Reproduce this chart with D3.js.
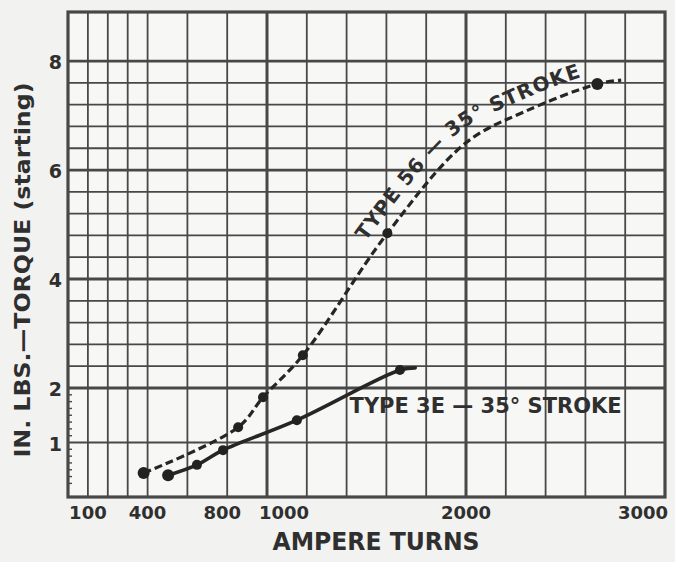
<!DOCTYPE html>
<html><head><meta charset="utf-8">
<script src="https://cdn.jsdelivr.net/npm/d3@7"></script>
<style>
html,body{margin:0;padding:0;background:#f2f2f0;}
svg{display:block;}
text{font-family:"DejaVu Sans",sans-serif;font-weight:bold;fill:#2f2f2f;}
</style></head><body>
<svg id="chart" width="675" height="562"></svg>
<script>
// ---- data ----
const xTickValues = [100, 400, 800, 1000, 2000, 3000];
const xTickLabels = ["100", "400", "800", "1000", "2000", "3000"];
const yTickValues = [1, 2, 4, 6, 8];
const yTickLabels = ["1", "2", "4", "6", "8"];
const xGridValues = [100, 200, 300, 400, 600, 800, 1000, 1200, 1400, 1600, 1800, 2000, 2200, 2400, 2600, 2800];
const xHeavyValues = [1000, 2000];
const yGridValues = [1, 2, 2.4, 2.8, 3.2, 3.6, 4, 4.4, 4.8, 5.2, 5.6, 6, 6.4, 6.8, 7.2, 7.6, 8];
const yHeavyValues = [2, 4, 6, 8];
const yMinorTicks = [0.25, 0.375, 0.5, 0.625, 0.75, 0.875, 1.125, 1.25, 1.375, 1.5, 1.625, 1.75, 1.875];

// Type 56 – 35° stroke (dashed)
const type56Amps   = [380, 855, 980, 1180, 1605, 2660];
const type56Torque = [0.44, 1.28, 1.83, 2.6, 4.84, 7.58];
const type56CurveAmps   = [380, 855, 980, 1180, 1605, 2000, 2300, 2660, 2780];
const type56CurveTorque = [0.44, 1.28, 1.83, 2.6, 4.84, 6.5, 7.08, 7.58, 7.65];

// Type 3E – 35° stroke (solid)
const type3EAmps   = [503, 648, 779, 1150, 1668];
const type3ETorque = [0.40, 0.59, 0.86, 1.41, 2.33];
const type3ECurveAmps   = [503, 648, 779, 1150, 1668, 1745];
const type3ECurveTorque = [0.40, 0.59, 0.86, 1.41, 2.33, 2.37];

const xTitle = "AMPERE TURNS";
const yTitle = "IN. LBS.\u2014TORQUE (starting)";
const label56 = "TYPE 56 \u2014 35\u00B0 STROKE";
const label3E = "TYPE 3E \u2014 35\u00B0 STROKE";

// ---- drawing ----
const svg = d3.select("#chart");
const ink = "#484848";
const x = d3.scaleLinear().domain([0, 3000]).range([68, 665]);
const y = d3.scaleLinear().domain([0, 8.9]).range([497, 12]);

svg.append("rect").attr("width", 675).attr("height", 562).attr("fill", "#f2f2f0");
svg.append("rect").attr("x", x(0)).attr("y", y(8.9)).attr("width", x(3000) - x(0)).attr("height", y(0) - y(8.9)).attr("fill", "#f7f7f5");

const grid = svg.append("g");
grid.selectAll("line.v").data(xGridValues).join("line")
  .attr("x1", d => x(d)).attr("x2", d => x(d))
  .attr("y1", y(0)).attr("y2", y(8.9))
  .attr("stroke", ink).attr("stroke-width", d => xHeavyValues.includes(d) ? 3 : 1.8);
grid.selectAll("line.h").data(yGridValues).join("line")
  .attr("x1", x(0)).attr("x2", x(3000))
  .attr("y1", d => y(d)).attr("y2", d => y(d))
  .attr("stroke", ink).attr("stroke-width", d => yHeavyValues.includes(d) ? 2.8 : 1.8);
// minor ticks on left axis
grid.selectAll("line.m").data(yMinorTicks).join("line")
  .attr("x1", x(0)).attr("x2", x(0) + 4)
  .attr("y1", d => y(d)).attr("y2", d => y(d))
  .attr("stroke", ink).attr("stroke-width", 1.4);
// frame
svg.append("rect").attr("x", x(0)).attr("y", y(8.9)).attr("width", x(3000) - x(0)).attr("height", y(0) - y(8.9))
  .attr("fill", "none").attr("stroke", ink).attr("stroke-width", 3.2);

// axis tick labels
const xLab = svg.append("g");
xTickValues.forEach((v, i) => {
  let anchor = "middle", dx = 0;
  if (v === 1000) { anchor = "start"; dx = -8; }
  if (v === 3000) { anchor = "end"; dx = 3; }
  if (v === 800) { dx = -5; }
  xLab.append("text").attr("x", x(v) + dx).attr("y", 519).attr("text-anchor", anchor)
    .attr("font-size", 18).text(xTickLabels[i]);
});
const yLab = svg.append("g");
yTickValues.forEach((v, i) => {
  yLab.append("text").attr("x", 62).attr("y", y(v) + 1).attr("text-anchor", "end")
    .attr("dominant-baseline", "central").attr("font-size", 19).text(yTickLabels[i]);
});

// titles
svg.append("text").attr("x", 376).attr("y", 550).attr("text-anchor", "middle")
  .attr("font-size", 24).attr("textLength", 207).attr("lengthAdjust", "spacingAndGlyphs").text(xTitle);
svg.append("text").attr("transform", "translate(30,270) rotate(-90)").attr("text-anchor", "middle")
  .attr("font-size", 21).attr("textLength", 375).attr("lengthAdjust", "spacingAndGlyphs").text(yTitle);

// curves
const line = d3.line().x(d => x(d[0])).y(d => y(d[1])).curve(d3.curveCatmullRom.alpha(0.5));
const c56 = type56CurveAmps.map((a, i) => [a, type56CurveTorque[i]]);
const c3E = type3ECurveAmps.map((a, i) => [a, type3ECurveTorque[i]]);

svg.append("path").attr("d", line(c3E)).attr("fill", "none").attr("stroke", "#262626")
  .attr("stroke-width", 3.6).attr("stroke-linecap", "round");
svg.append("path").attr("d", line(c56)).attr("fill", "none").attr("stroke", "#262626")
  .attr("stroke-width", 3.2).attr("stroke-dasharray", "8,4");

svg.append("g").selectAll("circle").data(type3EAmps.map((a, i) => [a, type3ETorque[i]])).join("circle")
  .attr("cx", d => x(d[0])).attr("cy", d => y(d[1])).attr("r", (d, i) => i === 0 ? 6 : 5).attr("fill", "#222");
svg.append("g").selectAll("circle").data(type56Amps.map((a, i) => [a, type56Torque[i]])).join("circle")
  .attr("cx", d => x(d[0])).attr("cy", d => y(d[1])).attr("r", (d, i) => (i === 0 || i === 5) ? 6 : 5).attr("fill", "#222");

// curve labels
svg.append("text").attr("x", x(1415)).attr("y", 413).attr("font-size", 21)
  .attr("textLength", 272).attr("lengthAdjust", "spacingAndGlyphs").text(label3E);

const labelPath = svg.append("path").attr("id", "lab56").attr("d", line(c56))
  .attr("fill", "none").attr("stroke", "none").attr("transform", "translate(-9,-9)");
const node = labelPath.node();
const total = node.getTotalLength();
const targetX = x(1540);
let lo = 0, hi = total;
for (let k = 0; k < 40; k++) { const mid = (lo + hi) / 2; if (node.getPointAtLength(mid).x < targetX) lo = mid; else hi = mid; }
svg.append("text").attr("font-size", 20).attr("letter-spacing", 1)
  .append("textPath").attr("href", "#lab56").attr("startOffset", lo).text(label56);
</script>
</body></html>
